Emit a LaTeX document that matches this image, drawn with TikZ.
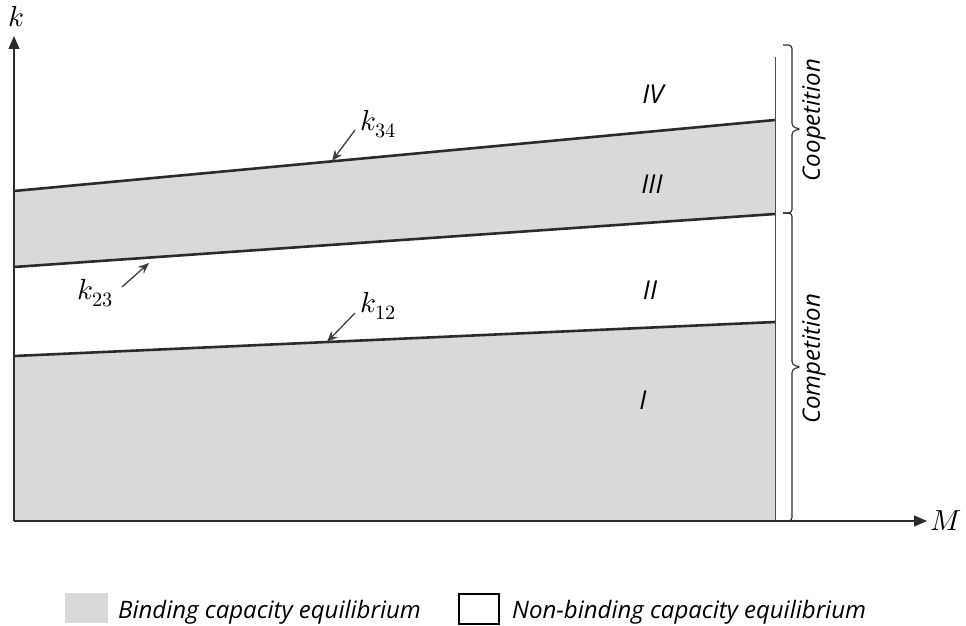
\documentclass[tikz,border=0pt]{standalone}
\usepackage{fontspec}
\usepackage{unicode-math}
\setmathfont{Latin Modern Math}
\setsansfont{Open Sans}
\usetikzlibrary{arrows.meta}
\definecolor{bindgray}{HTML}{D9D9D9}
\definecolor{lineblk}{HTML}{2B2B2B}
\begin{document}
\begin{tikzpicture}[x=1pt,y=-1pt,
  bound/.style={line width=2.6pt, draw=lineblk},
  axis/.style={line width=1.1pt, draw=lineblk, -{Triangle[length=13pt,width=11pt]}},
  ptr/.style={line width=1.3pt, draw=black!75, -{Stealth[length=11pt,width=9pt]}},
  mlbl/.style={font=\fontsize{29}{32}\selectfont, inner sep=0pt},
  reg/.style={font=\sffamily\itshape\fontsize{26}{30}\selectfont, inner sep=0pt},
  side/.style={font=\sffamily\itshape\fontsize{24}{28}\selectfont, rotate=90, inner sep=0pt},
  leg/.style={font=\sffamily\itshape\fontsize{24}{28}\selectfont, anchor=base west, inner sep=0pt},
  brk/.style={line width=1.1pt, draw=lineblk, rounded corners=3.5pt}
]
\useasboundingbox (0,0) rectangle (966,626);
% coordinates
\coordinate (o) at (14,521);
\coordinate (ytop) at (14,36);
\coordinate (xend) at (927,521);
\coordinate (a34) at (14,191);
\coordinate (b34) at (775,120);
\coordinate (a23) at (14,267);
\coordinate (b23) at (775,214);
\coordinate (a12) at (14,356);
\coordinate (b12) at (775,322);
\coordinate (rbot) at (775,521);
\coordinate (rtop) at (775,57);
% fills
\fill[bindgray] (a34) -- (b34) -- (b23) -- (a23) -- cycle;
\fill[bindgray] (a12) -- (b12) -- (rbot) -- (o) -- cycle;
% right edge
\draw[line width=0.9pt, draw=black!70] (rtop) -- (rbot);
% boundaries
\draw[bound] (a34) -- (b34);
\draw[bound] (a23) -- (b23);
\draw[bound] (a12) -- (b12);
% axes
\draw[axis] (o) -- (ytop);
\draw[axis] (o) -- (xend);
\node[mlbl] (klab) at (16,17) {$k$};
\node[mlbl, anchor=west] (mlab) at (930,521) {$M$};
% region labels
\node[reg] (r4) at (653,94) {IV};
\node[reg] (r3) at (652,184) {III};
\node[reg] (r2) at (650,290) {II};
\node[reg] (r1) at (643,400) {I};
% boundary labels
\node[mlbl] (k34) at (378,124) {$k_{34}$};
\coordinate (s34) at (355,130);
\coordinate (p34) at (332,161);
\draw[ptr] (s34) -- (p34);
\node[mlbl] (k23) at (95,293) {$k_{23}$};
\coordinate (s23) at (122,287);
\coordinate (p23) at (149,263);
\draw[ptr] (s23) -- (p23);
\node[mlbl] (k12) at (378,306) {$k_{12}$};
\coordinate (s12) at (355,313);
\coordinate (p12) at (327,342);
\draw[ptr] (s12) -- (p12);
% braces
\coordinate (c1) at (783,45);
\coordinate (c2) at (783,213);
\coordinate (c3) at (783,521);
\draw[brk] (c1) -- ++(9,0) -- ++(0,82) -- ++(9,2) -- ++(-9,2) -- ++(0,82) -- (c2);
\draw[brk] (c2) -- ++(9,0) -- ++(0,152) -- ++(9,2) -- ++(-9,2) -- ++(0,152) -- (c3);
\node[side] (coop) at (814,120) {Coopetition};
\node[side] (comp) at (814,359) {Competition};
% legend
\fill[bindgray] (65,593) rectangle (108,623);
\node[leg] (lb) at (118,618) {Binding capacity equilibrium};
\draw[line width=1.6pt, draw=black] (459,594) rectangle (499,624);
\node[leg] (ln) at (512,618) {Non-binding capacity equilibrium};
\end{tikzpicture}
\end{document}
